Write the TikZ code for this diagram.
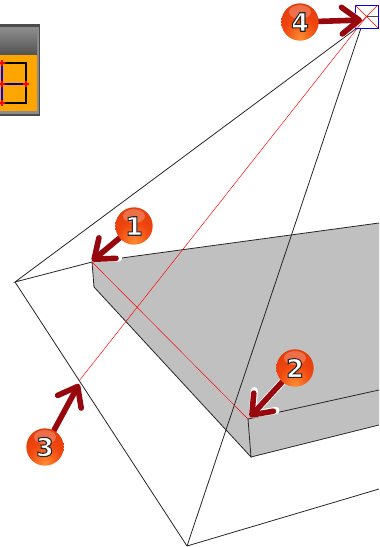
\documentclass[tikz,border=0pt]{standalone}
\usepackage{fontspec}
\setmainfont{DejaVu Sans}
\usetikzlibrary{arrows.meta}
\definecolor{slabgray}{RGB}{192,192,192}
\definecolor{pointred}{RGB}{150,8,14}
\definecolor{panelorange}{RGB}{255,165,0}
\definecolor{ballglow}{RGB}{255,140,50}
\definecolor{ballred}{RGB}{240,70,15}
\definecolor{ballrim}{RGB}{205,45,5}
\pgfdeclareradialshading{ballshade}{\pgfpoint{0bp}{-22bp}}{color(0bp)=(ballglow); color(22bp)=(ballred); color(65bp)=(ballrim); color(100bp)=(ballrim)}
\pgfdeclarelayer{callouts}
\pgfsetlayers{main,callouts}
\newcommand{\digit}[1]{\textcolor{white}{\special{pdf:code 2 Tr 0.8 w 0.15 G}#1\special{pdf:code 0 Tr}}}
\tikzset{
  ball/.style={circle, minimum size=28pt, inner sep=0pt, shading=ballshade,
    font=\fontsize{19}{19}\bfseries,
    path picture={\fill[white, opacity=0.25] (path picture bounding box.center) ++(0,-10) ellipse (11 and 7);}},
  pointer/.style={-{Straight Barb[length=13pt, width=20pt, round]}, pointred, line width=4.2pt, line cap=round},
  halo/.style={-{Straight Barb[length=14pt, width=22pt, round]}, white, line width=5.4pt, line cap=round},
  sightline/.style={red, line width=0.35pt},
  wire/.style={black!85, line width=0.6pt}
}
\begin{document}
\begin{tikzpicture}[x=0.75pt, y=-0.75pt]
  \useasboundingbox (0,0) rectangle (379,547);
  % tool panel
  \fill[black!70] (0,24) rectangle (40,116);
  \fill[black!45] (0,27) rectangle (38.5,114);
  \shade[top color=black!45, bottom color=black!68] (0,28) rectangle (37,55);
  \fill[panelorange] (0,55) rectangle (37,111);
  \draw[black, line width=0.8pt] (0,63) -- (26,63) -- (26,103) -- (0,103);
  \draw[blue, line width=1pt] (2,63) -- (2,103);
  \draw[blue!70!black, line width=1pt] (0,84) -- (26,84);
  \foreach \px/\py in {2/63, 2/84, 2/103, 26/84} {
    \draw[red, line width=0.8pt] (\px-3,\py) -- (\px+3,\py) (\px,\py-3) -- (\px,\py+3);
  }
  % slab
  \coordinate (backleft) at (92,262);
  \coordinate (backright) at (379,223);
  \coordinate (frontleft) at (248,419);
  \coordinate (frontright) at (379,390);
  \coordinate (lowleft) at (94,287);
  \coordinate (lowfront) at (251,457);
  \coordinate (lowright) at (379,425);
  \fill[slabgray] (backleft) -- (backright) -- (lowright) -- (lowfront) -- (lowleft) -- cycle;
  \draw[wire] (backleft) -- (backright);
  \draw[wire] (frontleft) -- (frontright);
  \draw[wire] (lowfront) -- (lowright);
  \draw[wire] (backleft) -- (lowleft) -- (lowfront) -- (frontleft);
  % view frustum
  \coordinate (farleft) at (15,282);
  \coordinate (farbottom) at (187,546);
  \coordinate (farright) at (379,489);
  \coordinate (eyeleft) at (357,28);
  \coordinate (eyebottom) at (361,28);
  \coordinate (eyecentre) at (367,16);
  \coordinate (edgepoint) at (79,381);
  \draw[wire] (eyeleft) -- (farleft) -- (backleft);
  \draw[wire] (farleft) -- (farbottom) -- (farright);
  \draw[wire] (farbottom) -- (eyebottom);
  \draw[sightline] (backleft) -- (frontleft);
  \draw[sightline] (edgepoint) -- (eyecentre);
  % view square
  \draw[blue, line width=0.5pt] (355,5) rectangle (378,28);
  \draw[sightline] (355,5) -- (378,28) (378,5) -- (355,28);
  \draw[black!70, line width=0.4pt] (367,16) -- (378,16);
  % callouts
  \begin{pgfonlayer}{callouts}
    \node[ball] (one) at (134,226) {\digit{1}};
    \node[ball] (two) at (295,368) {\digit{2}};
    \node[ball] (three) at (45,447) {\digit{3}};
    \node[ball] (four) at (300,22) {\digit{4}};
  \end{pgfonlayer}
  \coordinate (tipone) at (92,261);
  \coordinate (tiptwo) at (250,417);
  \coordinate (tipthree) at (79,384);
  \coordinate (tipfour) at (362,20);
  \foreach \from/\to in {one/tipone, two/tiptwo, three/tipthree, four/tipfour} {
    \draw[halo] (\from) -- (\to);
    \draw[pointer] (\from) -- (\to);
  }
\end{tikzpicture}
\end{document}
